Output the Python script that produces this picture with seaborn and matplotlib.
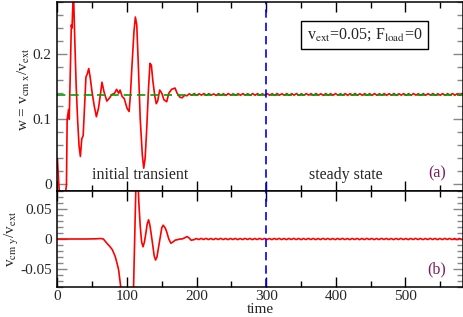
import numpy as np
import pandas as pd
import matplotlib
matplotlib.use('Agg')
import matplotlib.pyplot as plt
from matplotlib.ticker import MultipleLocator, FuncFormatter
import seaborn as sns

# transient part of w = v_cm,x / v_ext
t_w_trans = [0, 2, 4, 10, 13, 14, 16, 17, 19, 20, 21, 23, 25, 27, 29, 31, 33, 35, 37, 39,
             41, 43, 45, 47, 50, 53, 56, 59, 62, 64, 67, 71, 75, 78, 82, 85, 88, 90, 93, 96,
             100, 103, 105, 107, 110, 112, 114, 116, 119, 122, 124, 126, 128, 131, 133, 135,
             137, 140, 142, 144, 147, 150, 153, 157, 160, 164, 169, 172, 176, 179, 183]
w_trans = [0.040, 0.000, -0.030, -0.030, 0.000, 0.100, 0.115, 0.100, 0.200, 0.245, 0.240,
           0.300, 0.220, 0.150, 0.100, 0.060, 0.043, 0.070, 0.075, 0.120, 0.165, 0.170,
           0.178, 0.165, 0.140, 0.120, 0.104, 0.117, 0.140, 0.157, 0.142, 0.128, 0.133,
           0.138, 0.140, 0.146, 0.140, 0.145, 0.135, 0.132, 0.117, 0.112, 0.140, 0.180,
           0.235, 0.257, 0.245, 0.190, 0.100, 0.045, 0.025, 0.040, 0.079, 0.150, 0.186,
           0.183, 0.160, 0.135, 0.124, 0.128, 0.145, 0.140, 0.130, 0.127, 0.140, 0.146,
           0.148, 0.140, 0.134, 0.133, 0.137]

# steady state: small oscillation around the mean value
t_w_steady = np.arange(186, 583, 3.5)
w_steady = [0.1362, 0.1391, 0.1370, 0.1394, 0.1368, 0.1392, 0.1371, 0.1395, 0.1369, 0.1393,
            0.1372, 0.1390, 0.1367, 0.1394, 0.1370, 0.1392, 0.1368, 0.1395, 0.1371, 0.1391,
            0.1369, 0.1393, 0.1370, 0.1394, 0.1372, 0.1392, 0.1368, 0.1395, 0.1370, 0.1393,
            0.1371, 0.1392, 0.1369, 0.1394, 0.1370, 0.1393, 0.1368, 0.1395, 0.1371, 0.1392,
            0.1370, 0.1394, 0.1369, 0.1393, 0.1371, 0.1395, 0.1368, 0.1392, 0.1370, 0.1394,
            0.1372, 0.1393, 0.1369, 0.1395, 0.1370, 0.1392, 0.1368, 0.1394, 0.1371, 0.1393,
            0.1369, 0.1395, 0.1370, 0.1392, 0.1372, 0.1394, 0.1368, 0.1393, 0.1371, 0.1395,
            0.1370, 0.1392, 0.1369, 0.1394, 0.1371, 0.1393, 0.1368, 0.1395, 0.1370, 0.1392,
            0.1372, 0.1394, 0.1369, 0.1393, 0.1370, 0.1395, 0.1368, 0.1392, 0.1371, 0.1394,
            0.1370, 0.1393, 0.1369, 0.1395, 0.1372, 0.1392, 0.1368, 0.1394, 0.1370, 0.1393,
            0.1371, 0.1395, 0.1369, 0.1392, 0.1370, 0.1394, 0.1368, 0.1393, 0.1372, 0.1395,
            0.1370, 0.1392, 0.1369, 0.1394]

# transient part of v_cm,y / v_ext
t_vy_trans = [0, 20, 40, 55, 62, 66, 71, 75, 79, 83, 86, 88, 91, 94, 100, 106, 109, 111,
              113, 115, 117, 119, 121, 123, 125, 127, 129, 131, 133, 136, 139, 141, 143,
              145, 148, 150, 152, 155, 157, 160, 163, 166, 169, 173, 176, 179, 183, 186,
              189, 192]
vy_trans = [0.0, 0.0, 0.0, 0.0003, 0.0008, 0.0, -0.007, -0.012, -0.018, -0.029, -0.042,
            -0.052, -0.080, -0.110, -0.160, -0.150, -0.100, 0.000, 0.100, 0.120, 0.060,
            0.021, -0.005, -0.013, -0.005, 0.009, 0.025, 0.032, 0.022, -0.002, -0.028,
            -0.035, -0.030, -0.016, 0.005, 0.019, 0.023, 0.018, 0.012, 0.000, -0.007,
            -0.005, -0.002, -0.001, 0.000, 0.000, 0.002, 0.004, 0.002, -0.002]

t_vy_steady = np.arange(196, 583, 3.5)
vy_steady = [-0.0012, 0.0008, -0.0009, 0.0009, -0.0008, 0.0010, -0.0009, 0.0008, -0.0010, 0.0009,
             -0.0008, 0.0010, -0.0009, 0.0008, -0.0010, 0.0009, -0.0008, 0.0009, -0.0010, 0.0008,
             -0.0009, 0.0010, -0.0008, 0.0009, -0.0010, 0.0008, -0.0009, 0.0010, -0.0008, 0.0009,
             -0.0009, 0.0008, -0.0010, 0.0009, -0.0008, 0.0010, -0.0009, 0.0008, -0.0010, 0.0009,
             -0.0008, 0.0010, -0.0009, 0.0009, -0.0010, 0.0008, -0.0009, 0.0010, -0.0008, 0.0009,
             -0.0010, 0.0008, -0.0009, 0.0010, -0.0008, 0.0009, -0.0009, 0.0008, -0.0010, 0.0009,
             -0.0008, 0.0010, -0.0009, 0.0008, -0.0010, 0.0009, -0.0008, 0.0009, -0.0010, 0.0008,
             -0.0009, 0.0010, -0.0008, 0.0009, -0.0010, 0.0008, -0.0009, 0.0010, -0.0008, 0.0009,
             -0.0009, 0.0008, -0.0010, 0.0009, -0.0008, 0.0010, -0.0009, 0.0008, -0.0010, 0.0009,
             -0.0008, 0.0010, -0.0009, 0.0009, -0.0010, 0.0008, -0.0009, 0.0010, -0.0008, 0.0009,
             -0.0010, 0.0008, -0.0009, 0.0010, -0.0008, 0.0009, -0.0009, 0.0008, -0.0010, 0.0009,
             -0.0008]

w_mean = 0.138
t_switch = 300

df_w = pd.DataFrame({'time': np.concatenate([t_w_trans, t_w_steady]),
                     'w': np.concatenate([w_trans, w_steady])})
df_vy = pd.DataFrame({'time': np.concatenate([t_vy_trans, t_vy_steady]),
                      'vy': np.concatenate([vy_trans, vy_steady])})

sns.set_theme(style='ticks')
plt.rcParams['font.family'] = ['Liberation Serif', 'DejaVu Serif']
plt.rcParams['mathtext.fontset'] = 'stix'

fig = plt.figure(figsize=(4.63, 3.17), dpi=100)
ax1 = fig.add_axes([0.124, 0.3975, 0.875, 0.596])
ax2 = fig.add_axes([0.124, 0.0946, 0.875, 0.3029])

red = '#ff0000'
sns.lineplot(data=df_w, x='time', y='w', ax=ax1, color=red, lw=1.2,
             estimator=None, sort=False)
ax1.axhline(w_mean, color='#00a000', lw=1.2, ls=(0, (5, 3)))
sns.lineplot(data=df_vy, x='time', y='vy', ax=ax2, color=red, lw=1.2,
             estimator=None, sort=False)
for ax in (ax1, ax2):
    ax.axvline(t_switch, color='#0000ff', lw=1.2, ls=(0, (5, 3)))

ax1.set_xlim(0, 582)
ax2.set_xlim(0, 582)
ax1.set_ylim(-0.01, 0.28)
ax2.set_ylim(-0.08, 0.08)

fmt = FuncFormatter(lambda v, p: '{:g}'.format(round(v, 4)))
for ax in (ax1, ax2):
    ax.xaxis.set_major_locator(MultipleLocator(100))
    ax.xaxis.set_minor_locator(MultipleLocator(50))
    ax.tick_params(axis='both', which='both', direction='in', top=True, right=True,
                   labelsize=11, pad=4)
    ax.tick_params(axis='x', which='major', length=7, width=1, color='black', pad=2)
    ax.tick_params(axis='x', which='minor', length=4, width=1, color='black')
    ax.tick_params(axis='y', which='major', length=7, width=1, color='#888888')
    ax.tick_params(axis='y', which='minor', length=4, width=1, color='#888888')
    ax.yaxis.set_major_formatter(fmt)
    ax.xaxis.set_major_formatter(fmt)
    for s in ax.spines.values():
        s.set_linewidth(1.1)
        s.set_color('black')

ax1.yaxis.set_major_locator(MultipleLocator(0.1))
ax1.yaxis.set_minor_locator(MultipleLocator(0.02))
ax2.yaxis.set_major_locator(MultipleLocator(0.05))
ax2.yaxis.set_minor_locator(MultipleLocator(0.01))
ax1.tick_params(axis='x', labelbottom=False)

ax1.set_xlabel('')
ax1.set_ylabel(r'w = v$_{\rm cm\ x}$/v$_{\rm ext}$', fontsize=11)
ax1.yaxis.set_label_coords(-0.062, 0.54)
ax2.set_ylabel(r'v$_{\rm cm\ y}$/v$_{\rm ext}$', fontsize=11)
ax2.yaxis.set_label_coords(-0.09, 0.5)
ax2.set_xlabel('time', fontsize=11, labelpad=0)

ax1.text(119, 0.014, 'initial transient', ha='center', va='center', fontsize=11.5)
ax1.text(414, 0.014, 'steady state', ha='center', va='center', fontsize=11.5)
ax1.text(545, 0.017, '(a)', ha='center', va='center', fontsize=11.5, color='#7a1a60')
ax2.text(545, -0.051, '(b)', ha='center', va='center', fontsize=11.5, color='#7a1a60')
ax1.text(0.758, 0.828, r'v$_{\rm ext}$=0.05; F$_{\rm load}$=0', transform=ax1.transAxes,
         ha='center', va='center', fontsize=11.5,
         bbox=dict(boxstyle='square,pad=0.35', fc='white', ec='black', lw=1))

fig.savefig('out.png', dpi=100)
